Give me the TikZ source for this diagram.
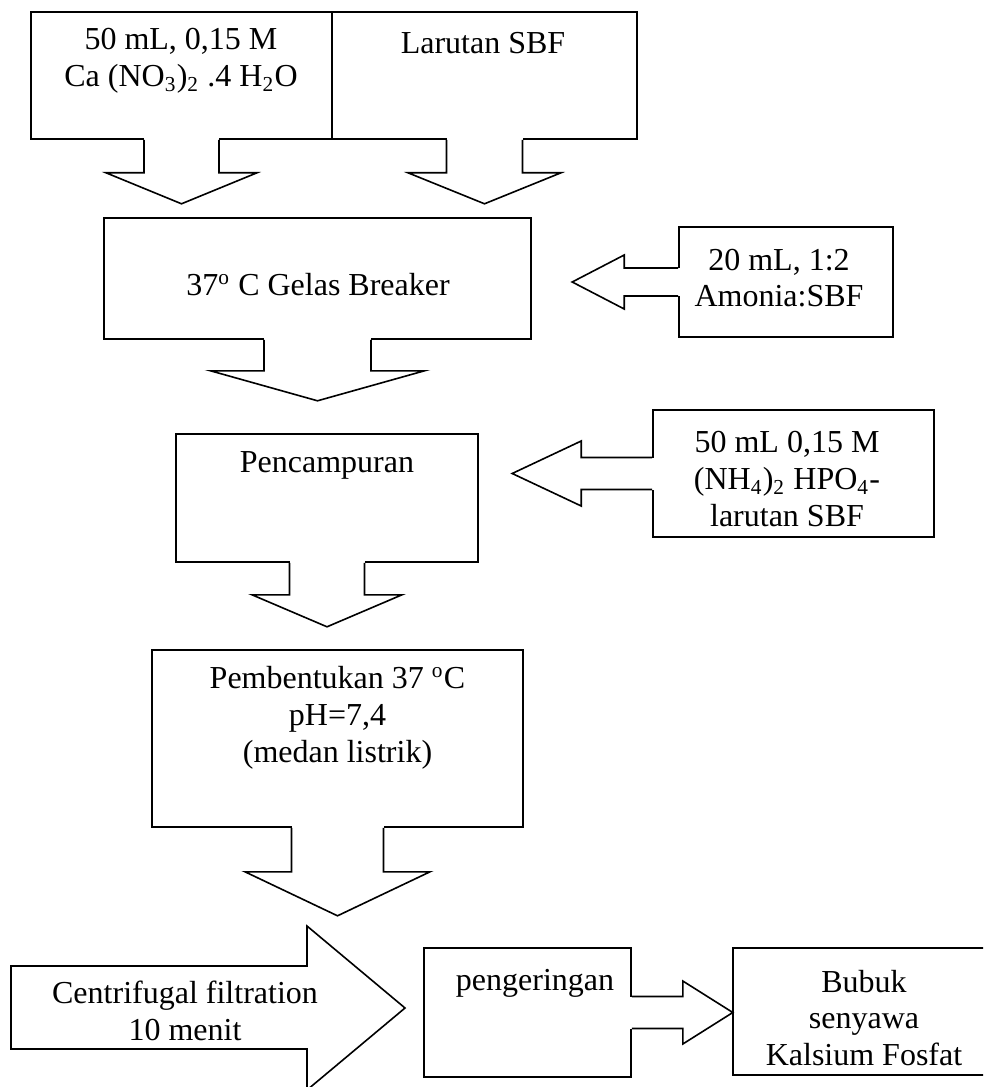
\documentclass[tikz,border=0pt]{standalone}
\usepackage{fontspec}
\setmainfont{Liberation Serif}
\usepackage{tikz}
\usetikzlibrary{calc}
\newcommand{\pxu}{0.375pt}

\begin{document}
\begin{tikzpicture}
	[x=0.375pt,y=-0.375pt,line width=0.6pt,line join=miter,
	box/.style={draw,rectangle,inner sep=0pt},
	txt/.style={align=center,inner sep=0pt,font=\fontsize{12}{13.8}\selectfont}]
	\useasboundingbox (0,0) rectangle (983,1087);
	\fill[white] (0,0) rectangle (983,1087);
	\clip (0,0) rectangle (983,1087);

	% boxes
	\node[box,minimum width=301*\pxu,minimum height=127*\pxu] (b1) at (181.5,75.5) {};
	\node[box,minimum width=305*\pxu,minimum height=127*\pxu] (b2) at (484.5,75.5) {};
	\node[box,minimum width=427*\pxu,minimum height=121*\pxu] (b3) at (317.5,278.5) {};
	\node[box,minimum width=214*\pxu,minimum height=110*\pxu] (b4) at (786,282) {};
	\node[box,minimum width=281*\pxu,minimum height=127*\pxu] (b5) at (793.5,473.5) {};
	\node[box,minimum width=302*\pxu,minimum height=128*\pxu] (b6) at (327,498) {};
	\node[box,minimum width=371*\pxu,minimum height=177*\pxu] (b7) at (337.5,738.5) {};
	\node[box,minimum width=207*\pxu,minimum height=129*\pxu] (b8) at (527.5,1012.5) {};
	\node[box,minimum width=262*\pxu,minimum height=127*\pxu] (b9) at (864,1011.5) {};

	% texts
	\node[txt] (t1) at (181,61) {50 mL, 0,15 M\\Ca (NO\textsubscript{3})\textsubscript{2} .4 H\textsubscript{2}O};
	\node[txt] (t2) at (483,43) {Larutan SBF};
	\node[txt] (t3) at (318,285) {37\textsuperscript{o} C Gelas Breaker};
	\node[txt] (t4) at (779,278) {20 mL, 1:2\\Amonia:SBF};
	\node[txt] (t5) at (787,479) {50 mL 0,15 M\\(NH\textsubscript{4})\textsubscript{2} HPO\textsubscript{4}-\\larutan SBF};
	\node[txt] (t6) at (327,465) {Pencampuran};
	\node[txt] (t7) at (337.5,718) {Pembentukan 37 \textsuperscript{o}C\\pH=7,4\\(medan listrik)};
	\node[txt] (t8) at (535,983) {pengeringan};
	\node[txt] (t9) at (864,1018) {Bubuk\\senyawa\\Kalsium Fosfat};

	% downward block arrows
	\foreach \b/\s/\h/\a/\c in
	{b1/37.5/75.5/33/31, b2/38/76.5/33/31, b3/53.5/107/31/30, b6/37.5/75/32/32, b7/46/92.5/44/44}
	{
	\fill[white] ($(\b.south)+(-\s,-2)$) rectangle ($(\b.south)+(\s,1)$);
	\draw ($(\b.south)+(-\s,0)$) -- ++(0,\a) -- ++({\s-\h},0) -- ($(\b.south)+(0,\a+\c)$)
		-- ($(\b.south)+(\h,\a)$) -- ++({\s-\h},0) -- ++(0,-\a);
	}

	% leftward block arrows
	\foreach \b/\s/\h/\a/\c in {b4/14/27/54/52, b5/16/32.5/71/69}
	{
	\fill[white] ($(\b.west)+(-1,-\s)$) rectangle ($(\b.west)+(2,\s)$);
	\draw ($(\b.west)+(0,-\s)$) -- ++(-\a,0) -- ++(0,{\s-\h}) -- ($(\b.west)+(-\a-\c,0)$)
		-- ($(\b.west)+(-\a,\h)$) -- ++(0,{\s-\h}) -- ++(\a,0);
	}

	% pengeringan to bubuk
	\fill[white] ($(b8.east)+(-2,-16)$) rectangle ($(b8.east)+(1,16)$);
	\draw ($(b8.east)+(0,-16)$) -- ++(51,0) -- ++(0,-15.5) -- ($(b8.east)+(101,0)$)
		-- ($(b8.east)+(51,31.5)$) -- ++(0,-15.5) -- ++(-51,0);

	% centrifugal arrow
	\draw (11,966) -- (307,966) -- (307,926) -- (405,1008) -- (307,1090) -- (307,1049) -- (11,1049) -- cycle;
	\node[txt] (cf) at (185,1011) {Centrifugal filtration\\10 menit};
\end{tikzpicture}
\end{document}
